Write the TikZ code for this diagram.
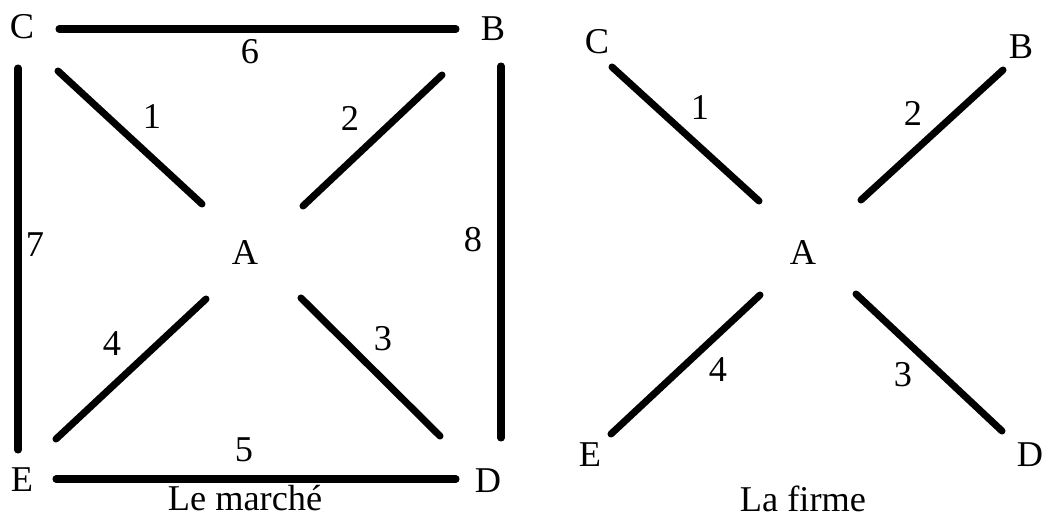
\documentclass[tikz,border=0pt]{standalone}
\usepackage{fontspec}
\setmainfont{Liberation Serif}
\begin{document}
\begin{tikzpicture}[x=0.03cm, y=-0.03cm,
  every node/.style={font=\fontsize{31}{36}\selectfont, inner sep=0pt},
  link/.style={line width=6pt, line cap=round}]
  \useasboundingbox (0,0) rectangle (1043,519);
  % Le marche
  \node (mC) at (22,27) {C};
  \node (mB) at (493,29) {B};
  \node (mA) at (245,253) {A};
  \node (mE) at (22,480) {E};
  \node (mD) at (488,481) {D};
  \coordinate (m6a) at (59,29);  \coordinate (m6b) at (456,29);
  \coordinate (m7a) at (18,68);  \coordinate (m7b) at (18,450);
  \coordinate (m8a) at (501,66); \coordinate (m8b) at (501,438);
  \coordinate (m5a) at (56,479); \coordinate (m5b) at (456,479);
  \coordinate (m1a) at (58,71);  \coordinate (m1b) at (202,204);
  \coordinate (m2a) at (442,75); \coordinate (m2b) at (303,206);
  \coordinate (m4a) at (206,299);\coordinate (m4b) at (56,439);
  \coordinate (m3a) at (301,298);\coordinate (m3b) at (440,436);
  \draw[link] (m6a) -- (m6b);
  \draw[link] (m7a) -- (m7b);
  \draw[link] (m8a) -- (m8b);
  \draw[link] (m5a) -- (m5b);
  \draw[link] (m1a) -- (m1b);
  \draw[link] (m2a) -- (m2b);
  \draw[link] (m4a) -- (m4b);
  \draw[link] (m3a) -- (m3b);
  \node (l6) at (250,52) {6};
  \node (l7) at (35,245) {7};
  \node (l8) at (473,240) {8};
  \node (l5) at (244,450) {5};
  \node (l1) at (152,117) {1};
  \node (l2) at (350,118) {2};
  \node (l4) at (112,344) {4};
  \node (l3) at (383,339) {3};
  \node (tM) at (245,498) {Le marché};
  % La firme
  \node (fC) at (597,42) {C};
  \node (fB) at (1021,47) {B};
  \node (fA) at (803,253) {A};
  \node (fE) at (590,455) {E};
  \node (fD) at (1030,455) {D};
  \coordinate (f1a) at (612,67);  \coordinate (f1b) at (759,201);
  \coordinate (f2a) at (1003,70); \coordinate (f2b) at (861,200);
  \coordinate (f4a) at (760,295); \coordinate (f4b) at (611,434);
  \coordinate (f3a) at (856,294); \coordinate (f3b) at (1002,431);
  \draw[link] (f1a) -- (f1b);
  \draw[link] (f2a) -- (f2b);
  \draw[link] (f4a) -- (f4b);
  \draw[link] (f3a) -- (f3b);
  \node (k1) at (700,108) {1};
  \node (k2) at (913,113) {2};
  \node (k4) at (718,370) {4};
  \node (k3) at (903,375) {3};
  \node (tF) at (803,499) {La firme};
\end{tikzpicture}
\end{document}
